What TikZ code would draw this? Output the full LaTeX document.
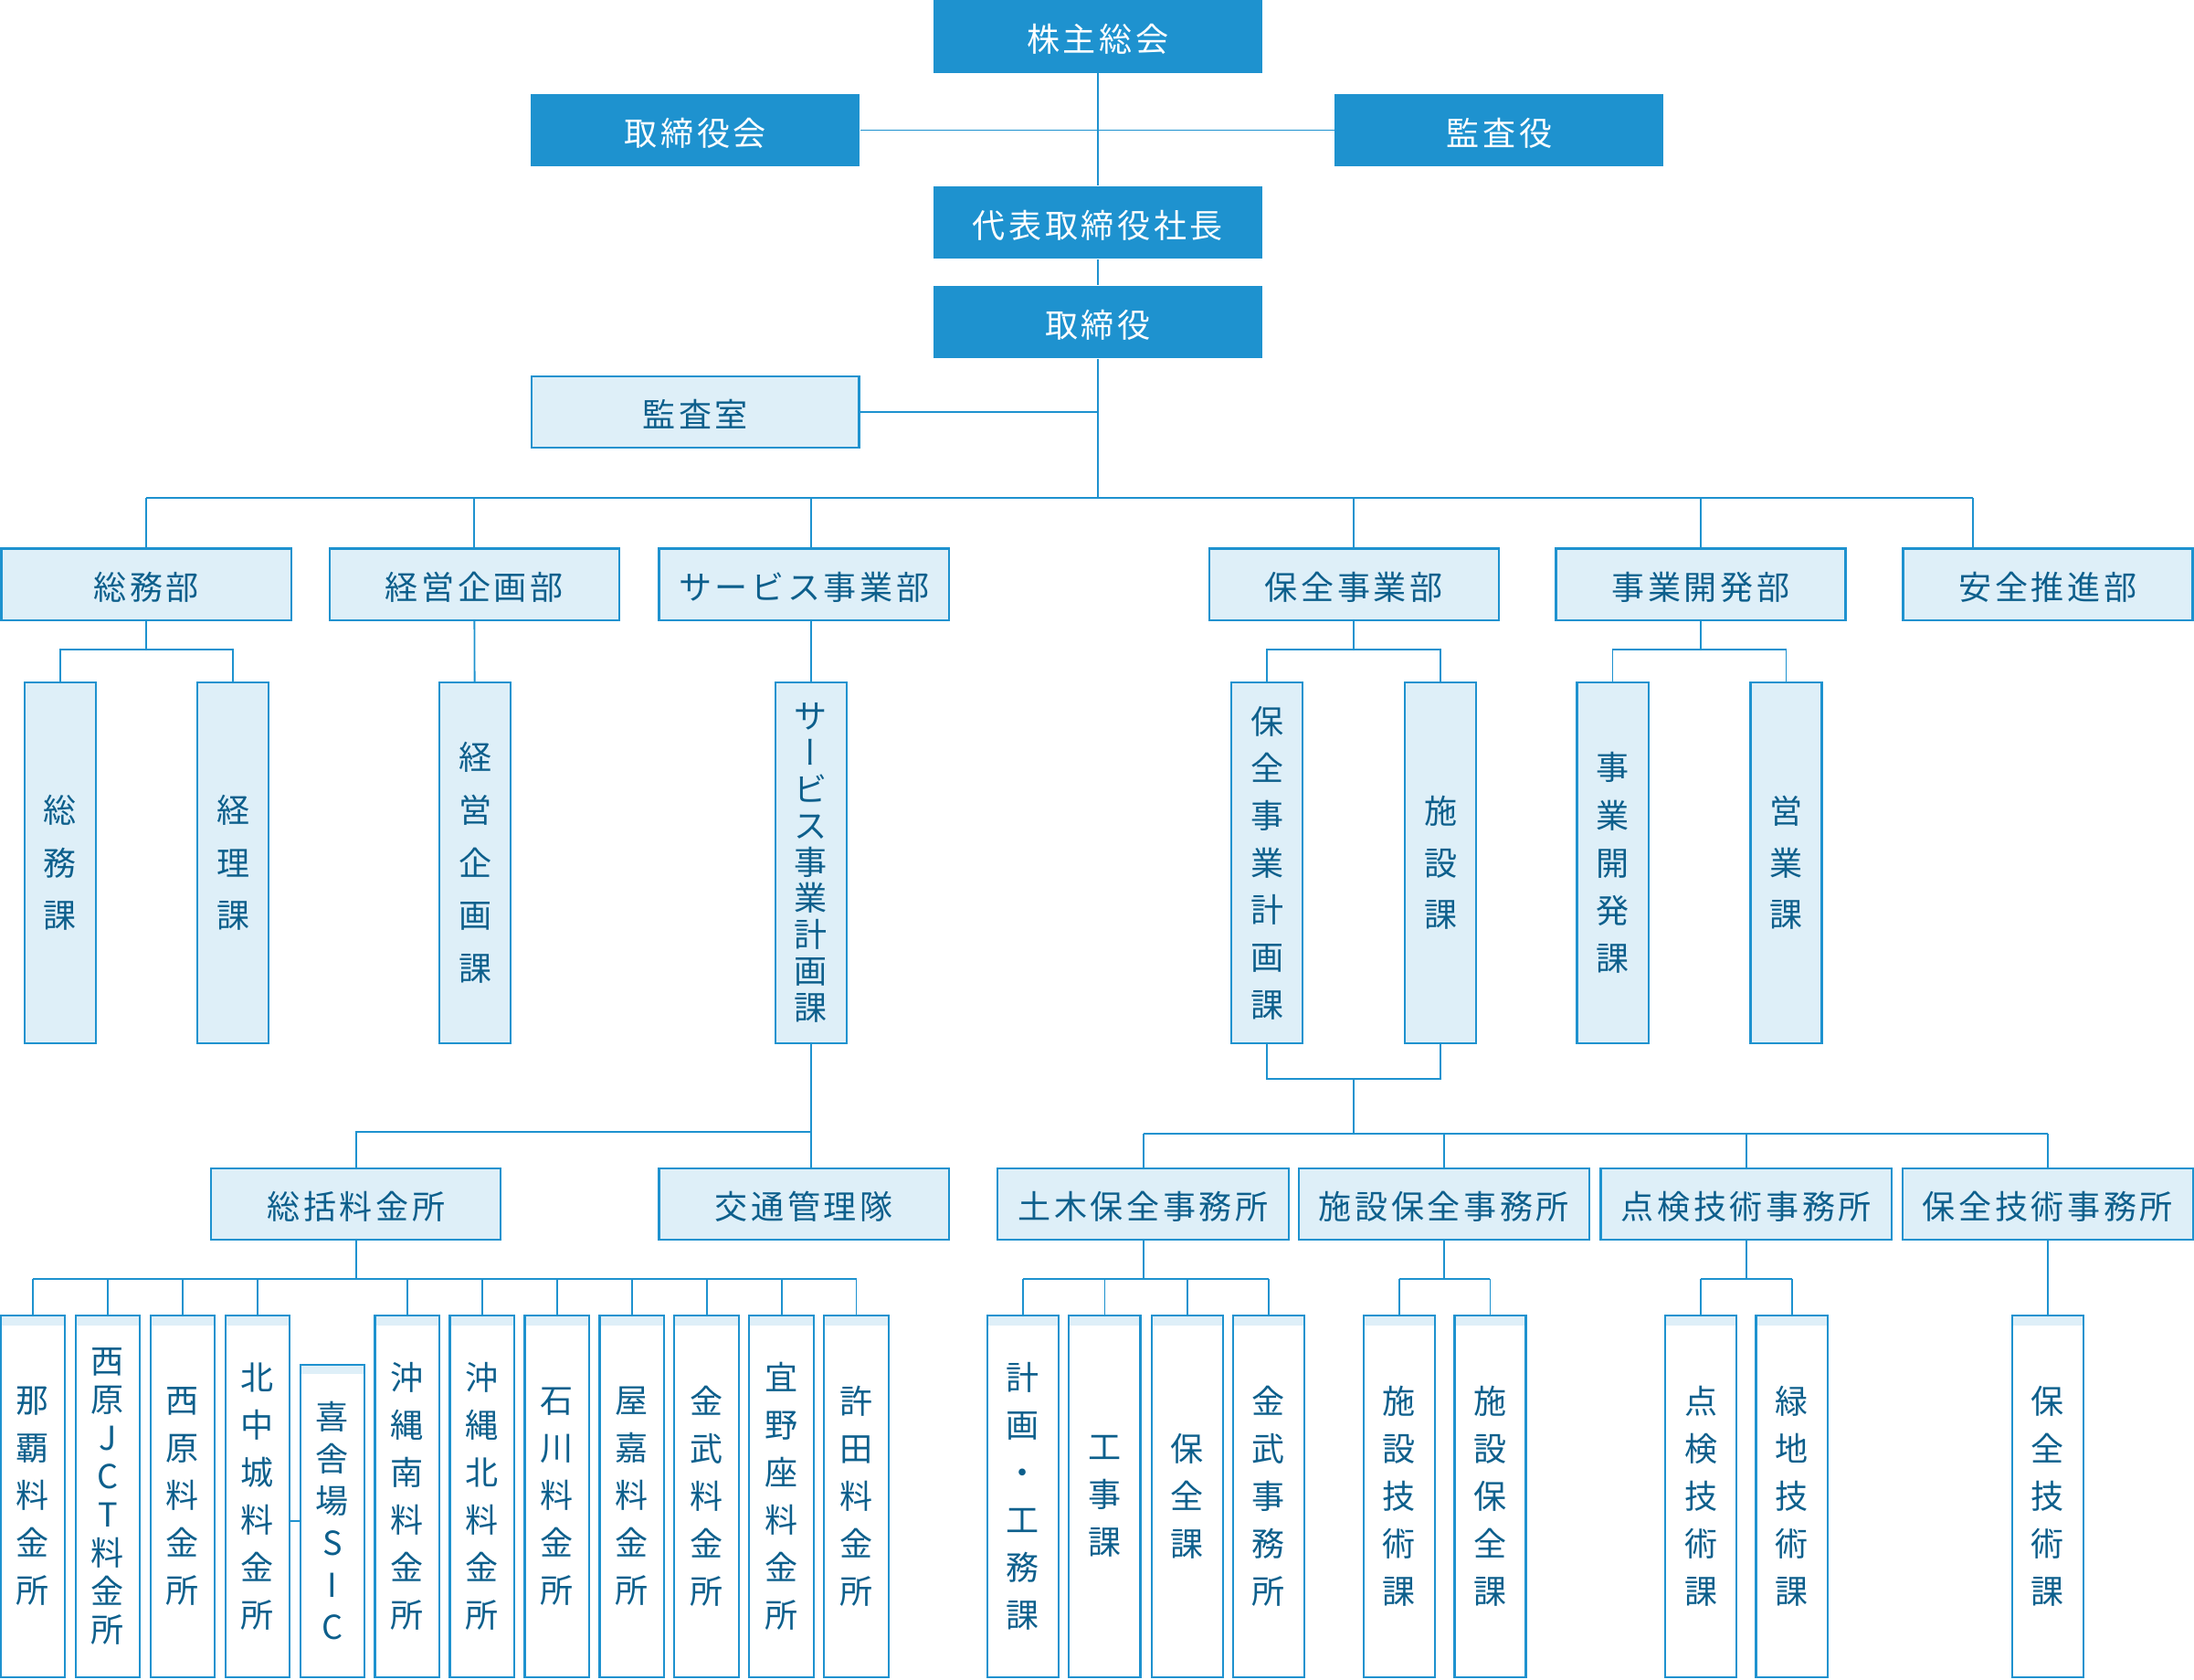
\documentclass[tikz,border=0pt]{standalone}
\usepackage{fontspec}
\setmainfont{Noto Sans CJK JP}
\newfontfamily\jpspaced[LetterSpace=10]{Noto Sans CJK JP}
\newfontfamily\jpvert[RawFeature=+vert]{Noto Sans CJK JP}
\newcommand{\chouon}{{\jpvert ー}}
\definecolor{orgblue}{RGB}{30,146,207}
\definecolor{orglite}{RGB}{222,239,248}
\definecolor{orgink}{RGB}{13,95,140}
\tikzset{
  link/.style={draw=orgblue, line width=0.7pt},
  topbox/.style={fill=orgblue, text=white, inner sep=0pt, minimum width=4.7cm,
    minimum height=1.04cm, text height=12.4pt, text depth=0pt,
    font=\jpspaced\fontsize{13.4}{16}\selectfont},
  deptbox/.style={fill=orglite, draw=orgblue, line width=0.8pt, text=orgink, inner sep=0pt,
    minimum width=4.14cm, minimum height=1.02cm, text height=12.4pt, text depth=0pt,
    font=\jpspaced\fontsize{13.4}{16}\selectfont},
  secbox/.style={fill=orglite, draw=orgblue, line width=0.8pt, text=orgink, inner sep=0pt,
    minimum width=1.02cm, minimum height=5.16cm, align=center,
    font={\fontsize{13.4}{#1}\selectfont\lineskiplimit=-20pt}},
  secbox/.default=19.35,
  unitbox/.style={fill=white, draw=orgblue, line width=0.8pt, text=orgink, inner sep=0pt,
    minimum width=0.92cm, minimum height=5.17cm, align=center,
    font={\fontsize{13.4}{#1}\selectfont\lineskiplimit=-20pt},
    path picture={\fill[orglite] (path picture bounding box.north west)
      rectangle ([yshift=-0.14cm]path picture bounding box.north east);}},
  unitbox/.default=19.35,
}

\begin{document}
\begin{tikzpicture}[x=0.02cm, y=-0.02cm]
  % layout in px of a 1568 x 1200 sheet, y runs downwards
  \useasboundingbox (0,0) rectangle (1568,1200);
  % shareholders, board, president
  \node[topbox] (kabu) at (784.5,26) {株主総会};
  \node[topbox] (tkai) at (497,93) {取締役会};
  \node[topbox] (kansayaku) at (1071.5,93) {監査役};
  \node[topbox] (shacho) at (784.5,159) {代表取締役社長};
  \node[topbox] (tori) at (784.5,230) {取締役};
  \node[deptbox, minimum width=4.68cm] (kshitsu) at (497,294.5) {監査室};
  % departments
  \foreach \n/\x/\lab in {somu/104.5/総務部, keiei/339/経営企画部, svc/574.5/サービス事業部,
      hozen/967.5/保全事業部, jigyo/1215.5/事業開発部, anzen/1463.5/安全推進部}
    \node[deptbox] (\n) at (\x,417.5) {\lab};
  \coordinate (bus) at (784.5,356);
  \coordinate (anzenin) at (1410,392);
  % sections
  \foreach \n/\x/\p/\lab in {somuka/43/21.34/{総\\務\\課}, keiri/166.5/21.34/{経\\理\\課},
      keieika/339.5/21.4/{経\\営\\企\\画\\課},
      svcka/579.5/14.8/{サ\\\chouon\\ビ\\ス\\事\\業\\計\\画\\課},
      hzka/905.5/19.2/{保\\全\\事\\業\\計\\画\\課}, shisetsu/1029.5/21.1/{施\\設\\課},
      jgka/1152.5/19.35/{事\\業\\開\\発\\課}, eigyo/1276.5/21.1/{営\\業\\課}}
    \node[secbox=\p] (\n) at (\x,616.5) {\lab};
  % offices
  \node[deptbox] (sokatsu) at (254.5,860.5) {総括料金所};
  \node[deptbox] (kotsu) at (574.5,860.5) {交通管理隊};
  \foreach \n/\x/\lab in {doboku/817/土木保全事務所, shhz/1032/施設保全事務所,
      tenken/1248/点検技術事務所, hzgj/1463.5/保全技術事務所}
    \node[deptbox, minimum width=4.16cm] (\n) at (\x,860.5) {\lab};
  % toll gates
  \foreach \n/\x/\p/\lab in {naha/23.5/19.35/{那\\覇\\料\\金\\所},
      njct/77/15.6/{西\\原\\J\\C\\T\\料\\金\\所}, nishi/130.5/19.35/{西\\原\\料\\金\\所},
      kitanaka/184/19.35/{北\\中\\城\\料\\金\\所}, okiminami/291/19.35/{沖\\縄\\南\\料\\金\\所},
      okikita/344.5/19.35/{沖\\縄\\北\\料\\金\\所}, ishikawa/398/19.35/{石\\川\\料\\金\\所},
      yaka/451.5/19.35/{屋\\嘉\\料\\金\\所}, kin/505/19.35/{金\\武\\料\\金\\所},
      ginoza/558.5/19.35/{宜\\野\\座\\料\\金\\所}, kyoda/612/19.35/{許\\田\\料\\金\\所}}
    \node[unitbox=\p] (\n) at (\x,1069.25) {\lab};
  \node[unitbox=17.07, minimum height=4.47cm] (kisheba) at (237.5,1086.75) {喜\\舎\\場\\S\\I\\C};
  % maintenance units
  \foreach \n/\x/\lab in {keikaku/731/{計\\画\\・\\工\\務\\課}, koji/789.5/{工\\事\\課},
      hozenka/848.5/{保\\全\\課}, kinjim/906.5/{金\\武\\事\\務\\所},
      shgika/1000/{施\\設\\技\\術\\課}, shhzka/1065/{施\\設\\保\\全\\課},
      tengika/1215.5/{点\\検\\技\\術\\課}, ryokuka/1280.5/{緑\\地\\技\\術\\課},
      hzgjka/1463.5/{保\\全\\技\\術\\課}}
    \node[unitbox, minimum width=1.02cm] (\n) at (\x,1069.25) {\lab};

  % connectors, top
  \draw[link] (kabu) -- (shacho);
  \draw[link] (tkai) -- (kansayaku);
  \draw[link] (shacho) -- (tori);
  \draw[link] (tori) -- (bus);
  \draw[link] (kshitsu) -- (kshitsu -| tori);
  \draw[link] (bus -| somu) -- (bus -| anzenin);
  \foreach \n in {somu,keiei,hozen,jigyo}
    \draw[link] (bus -| \n) -- (\n);
  \draw[link] (bus -| svcka) -- (svcka |- svc.north);
  \draw[link] (bus -| anzenin) -- (anzenin);
  % departments to sections
  \foreach \p/\a/\b in {somu/somuka/keiri, hozen/hzka/shisetsu, jigyo/jgka/eigyo}
    \draw[link] (\p) -- (\p |- 0,464) (\a.north) |- (\p |- 0,464) -| (\b.north);
  \draw[link] (keiei) -- (keieika);
  \draw[link] (svcka |- svc.south) -- (svcka);
  % sections to offices
  \draw[link] (svcka) -- (svcka |- kotsu.north);
  \draw[link] (svcka |- 0,809) -| (sokatsu);
  \draw[link] (hzka.south) -- (hzka.south |- 0,771) -| (shisetsu.south);
  \draw[link] (hozen |- 0,771) -- (hozen |- 0,810) coordinate (obus);
  \draw[link] (obus -| doboku) -- (obus -| hzgj);
  \foreach \o in {doboku,shhz,tenken,hzgj}
    \draw[link] (obus -| \o) -- (\o);
  % offices to units
  \foreach \p/\a/\b in {sokatsu/naha/kyoda, doboku/keikaku/kinjim, shhz/shgika/shhzka,
      tenken/tengika/ryokuka}
    \draw[link] (\p) -- (\p |- 0,914) (\a |- 0,914) -- (\b |- 0,914);
  \foreach \u in {naha,njct,nishi,kitanaka,okiminami,okikita,ishikawa,yaka,kin,ginoza,kyoda,
      keikaku,koji,hozenka,kinjim,shgika,shhzka,tengika,ryokuka}
    \draw[link] (\u |- 0,914) -- (\u);
  \draw[link] (hzgj) -- (hzgjka);
  \draw[link] (kisheba.west) -- (kisheba.west -| kitanaka.east);
\end{tikzpicture}
\end{document}
